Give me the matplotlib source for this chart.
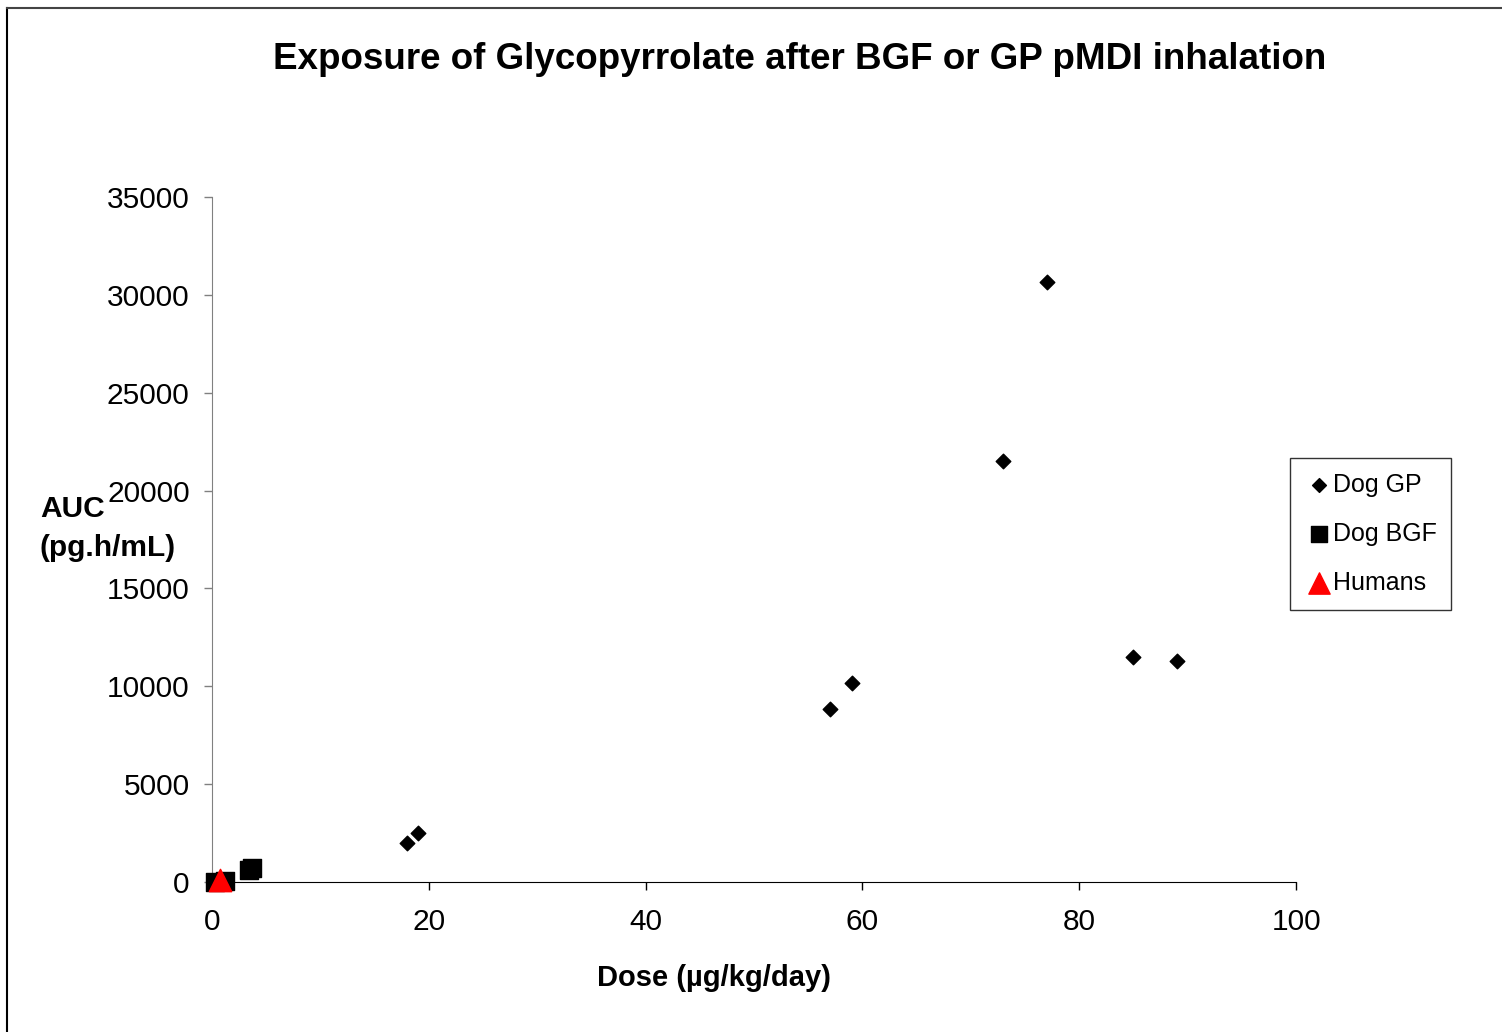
import matplotlib
matplotlib.use("Agg")
import matplotlib.pyplot as plt
from matplotlib.lines import Line2D

plt.rcParams['font.family'] = ['Liberation Sans', 'DejaVu Sans']

# data
dog_gp_dose = [18, 19, 57, 59, 73, 77, 85, 89]
dog_gp_auc = [2000, 2500, 8850, 10150, 21500, 30650, 11500, 11300]
dog_bgf_dose = [0.3, 1.2, 3.4, 3.7]
dog_bgf_auc = [20, 40, 600, 700]
human_dose = [0.7]
human_auc = [120]

fig = plt.figure(figsize=(15.02, 10.32), dpi=100)
# frame only on top and left, like the cropped reference
fig.add_artist(Line2D([7 / 1502, 7 / 1502], [0, 1 - 8 / 1032], transform=fig.transFigure,
                      color='black', linewidth=1.5))
fig.add_artist(Line2D([7 / 1502, 1], [1 - 8 / 1032, 1 - 8 / 1032], transform=fig.transFigure,
                      color='#444444', linewidth=1.5))

ax = fig.add_axes([0.1411, 0.1453, 0.7218, 0.6638])

ax.scatter(dog_gp_dose, dog_gp_auc, marker='D', s=55, color='black', label='Dog GP',
           zorder=3, clip_on=False)
ax.scatter(dog_bgf_dose, dog_bgf_auc, marker='s', s=150, color='black', label='Dog BGF',
           zorder=3, clip_on=False)
ax.scatter(human_dose, human_auc, marker='^', s=260, color='red', label='Humans',
           zorder=4, clip_on=False)

ax.set_xlim(0, 100)
ax.set_ylim(0, 35000)
ax.set_xticks(range(0, 101, 20))
ax.set_yticks(range(0, 35001, 5000))
ax.tick_params(labelsize=21.5, length=6, width=1, direction='out')
ax.tick_params(axis='x', pad=13)
ax.tick_params(axis='y', pad=10, color='#808080')
ax.spines['top'].set_visible(False)
ax.spines['right'].set_visible(False)
ax.spines['left'].set_color('#808080')
ax.spines['bottom'].set_color('black')

fig.text(0.5327, 0.942, 'Exposure of Glycopyrrolate after BGF or GP pMDI inhalation',
         ha='center', va='center', fontsize=26.5, fontweight='bold')
fig.text(0.0265, 0.488, 'AUC\n(pg.h/mL)', ha='left', va='center', fontsize=21.5,
         fontweight='bold', linespacing=1.5)
fig.text(0.4754, 0.052, 'Dose (µg/kg/day)', ha='center', va='center', fontsize=21,
         fontweight='bold')

leg = ax.legend(loc='upper left', bbox_to_anchor=(0.9945, 0.619), borderaxespad=0,
                fontsize=18, frameon=True, fancybox=False, edgecolor='black',
                handletextpad=0.0, handlelength=1.1, labelspacing=1.0, borderpad=0.6,
                markerscale=0.95)
leg.get_frame().set_linewidth(1)

fig.savefig('out.png', dpi=100)
